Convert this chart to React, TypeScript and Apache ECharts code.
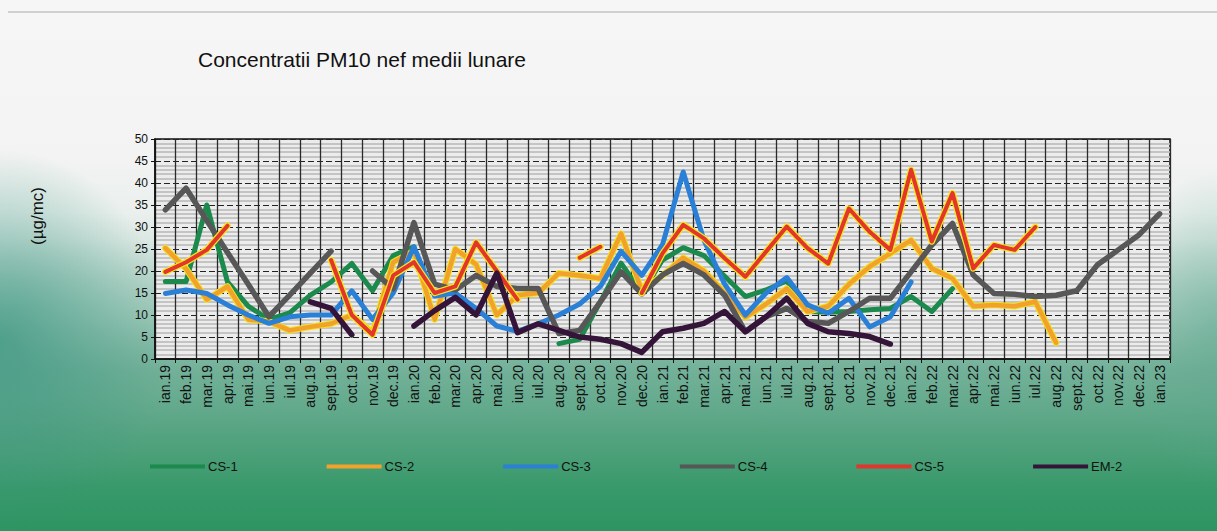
import React, { useEffect, useRef } from "react";
import * as echarts from "echarts";

const categories = [
  "ian.19","feb.19","mar.19","apr.19","mai.19","iun.19","iul.19","aug.19","sept.19","oct.19","nov.19","dec.19",
  "ian.20","feb.20","mar.20","apr.20","mai.20","iun.20","iul.20","aug.20","sept.20","oct.20","nov.20","dec.20",
  "ian.21","feb.21","mar.21","apr.21","mai.21","iun.21","iul.21","aug.21","sept.21","oct.21","nov.21","dec.21",
  "ian.22","feb.22","mar.22","apr.22","mai.22","iun.22","iul.22","aug.22","sept.22","oct.22","nov.22","dec.22",
  "ian.23",
];

const N = null;

const cs1 = [17.6,17.6,35,17.5,12,9,10.5,14.5,17.5,21.7,15.5,23.5,
  25.5,N,N,N,N,N,N,3.5,4.5,13,21.8,15,
  22.5,25.3,23.5,18.8,14.2,15.7,17.8,10.8,10.6,10.8,11.2,11.5,
  14.2,10.8,16,N,N,N,N,N,N,N,N,N,N];

const cs2 = [25.2,20.5,13.5,16.5,9,8.5,6.5,7.3,8,10,6,22,
  24.5,9,25,21.5,10,14.5,15,19.5,19,18.3,28.5,15.5,
  19,23,20,15,9.5,12.5,16,10.8,12,17,21,24,
  27,20.6,18.3,12,12.3,12,13,3.7,N,N,N,N,N];

const cs3 = [14.9,15.7,14.9,12.3,10,8.1,9.6,10,10,15.5,9,15,
  25.5,14.3,15,11.5,7.5,6.3,8,10,12.5,16.5,24.5,19,
  26,42.5,27,17,10,15,18.5,12.3,10.4,13.8,7.3,9.6,
  17.5,N,N,N,N,N,N,N,N,N,N,N,N];

const cs4 = [33.9,38.8,31.5,24.2,17,9.6,14.5,19.5,24.5,N,20,16,
  31,17,15.7,19,16.5,16,16,5.8,6.5,13,19.8,14.8,
  19.1,21.7,19.1,14.5,6.2,9.6,11.5,8.5,8.1,10.8,13.8,13.8,
  19.8,25.9,30.8,19.1,14.9,14.7,14.2,14.5,15.5,21.4,24.8,28.2,
  33];

const cs5 = [19.8,22,24.8,30.3,N,N,N,N,22.5,10,5.5,19,
  22,15,16.5,26.5,20,13.5,N,N,23,25.5,N,15,
  24,30.5,27.4,22.9,18.7,24.4,30.1,25.2,21.7,34.2,28.9,24.8,
  43,26.7,37.7,20.6,25.9,24.8,30,N,N,N,N,N,N];

const em2 = [N,N,N,N,N,N,N,13,11.5,5.5,N,N,
  7.5,11,14,10,19.5,6,8,6.5,5,4.5,3.5,1.5,
  6.2,7,8.1,10.8,6.2,9.6,13.8,8.1,6.2,5.8,5.1,3.4,
  N,N,N,N,N,N,N,N,N,N,N,N,N];

const yTicks = [0, 5, 10, 15, 20, 25, 30, 35, 40, 45, 50];

const FONT = "'Liberation Sans', Arial, sans-serif";

export default function App() {
  const ref = useRef<HTMLDivElement>(null);

  useEffect(() => {
    document.body.style.margin = "0";
    if (!ref.current) return;
    const chart = echarts.init(ref.current, undefined, { renderer: "svg" });

    const mk = (name: string, data: (number | null)[], color: string, width: number, z: number) => ({
      name,
      type: "line",
      data,
      symbol: "none",
      connectNulls: false,
      lineStyle: { color, width, join: "round", cap: "round" },
      itemStyle: { color },
      z,
    });

    const under = (name: string, data: (number | null)[], color: string, width: number, z: number) => ({
      ...mk(name, data, color, width, z),
      silent: true,
    });

    chart.setOption({
      animation: false,
      backgroundColor: "transparent",
      textStyle: { fontFamily: FONT },
      title: {
        text: "Concentratii PM10 nef medii lunare",
        left: 193,
        top: 44,
        textStyle: { fontFamily: FONT, fontSize: 21, fontWeight: "normal", color: "#111" },
      },
      legend: {
        data: ["CS-1", "CS-2", "CS-3", "CS-4", "CS-5", "EM-2"],
        left: 145,
        top: 455,
        itemWidth: 55,
        itemHeight: 4,
        itemGap: 89,
        icon: "rect",
        textStyle: { fontFamily: FONT, fontSize: 13, color: "#111", padding: [0, 0, 0, -2] },
      },
      grid: { left: 155, right: 47, top: 139, bottom: 172, show: true, backgroundColor: "#ececec", borderColor: "#111", borderWidth: 1.5 },
      xAxis: {
        type: "category",
        data: categories,
        boundaryGap: true,
        axisLine: { lineStyle: { color: "#111", width: 1.5 } },
        axisTick: { show: true, lineStyle: { color: "#111" }, length: 4 },
        axisLabel: { rotate: 90, interval: 0, fontSize: 14, color: "#111", fontFamily: FONT, margin: 6 },
        splitLine: { show: true, interval: 0, lineStyle: { color: "#2a2a2a", width: 1.3 } },
      },
      yAxis: {
        type: "value",
        min: yTicks[0],
        max: yTicks[yTicks.length - 1],
        interval: 5,
        axisLine: { show: true, lineStyle: { color: "#111", width: 1.5 } },
        axisTick: { show: true, lineStyle: { color: "#111" }, length: 4 },
        axisLabel: { fontSize: 12, color: "#111", fontFamily: FONT, margin: 7 },
        splitLine: { show: true, lineStyle: { color: "#222", type: [6, 3], width: 1.2 } },
        minorTick: { show: false, splitNumber: 5 },
        minorSplitLine: { show: true, lineStyle: { color: "#c4c4c4", width: 2 } },
      },
      graphic: [
        { type: "line", shape: { x1: 8, y1: 12, x2: 1217, y2: 12 }, style: { stroke: "#aaa", lineWidth: 1 } },
        {
          type: "text",
          x: 37,
          y: 216,
          rotation: Math.PI / 2,
          style: { text: "(µg/mc)", fontFamily: FONT, fontSize: 17, fill: "#111", align: "center", verticalAlign: "middle" },
        },
      ],
      series: [
        mk("CS-1", cs1, "#1c8a4c", 5, 3),
        under("CS-2u", cs2, "#f2e21a", 6.5, 4),
        mk("CS-2", cs2, "#f2a12c", 4.5, 5),
        mk("CS-3", cs3, "#2a80d6", 5, 6),
        mk("CS-4", cs4, "#575757", 5.5, 7),
        under("CS-5u", cs5, "#f4e61a", 6.5, 8),
        mk("CS-5", cs5, "#e2352c", 4, 9),
        mk("EM-2", em2, "#35143a", 5.5, 10),
      ],
    });

    return () => chart.dispose();
  }, []);

  return (
    <div
      style={{
        position: "fixed",
        left: 0,
        top: 0,
        width: 1217,
        height: 531,
        background:
          "radial-gradient(ellipse 170px 190px at 0px 340px, rgba(60,150,130,0.75), rgba(60,150,130,0) 100%), radial-gradient(ellipse 90px 160px at 1217px 330px, rgba(90,165,140,0.45), rgba(90,165,140,0) 100%), linear-gradient(180deg, rgba(255,255,255,0) 0%, rgba(255,255,255,0) 40%, rgba(60,140,120,0.35) 70%, rgba(40,140,100,0) 100%), linear-gradient(180deg, #f6f6f6 0%, #f2f3f2 30%, #e6eeea 45%, #b9d9ca 60%, #86bfa3 72%, #5aa982 82%, #379a68 92%, #2e9462 100%)",
      }}
    >
      <div ref={ref} style={{ width: 1217, height: 531 }} />
    </div>
  );
}
